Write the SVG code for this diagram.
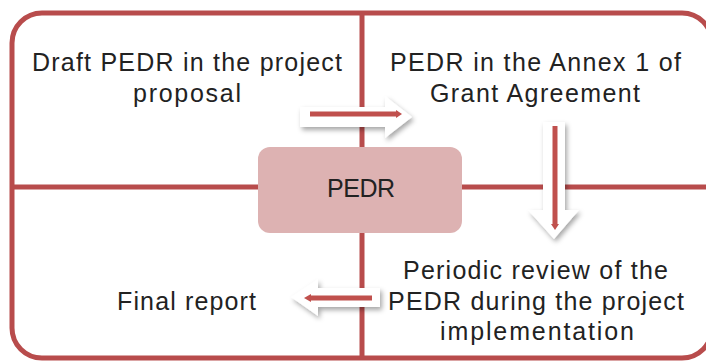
<svg xmlns="http://www.w3.org/2000/svg" width="706" height="363" viewBox="0 0 706 363">
<defs>
<style>
.ln{stroke:#b84c4c;stroke-width:5;fill:none}
.t{font-family:"Liberation Sans",Arial,sans-serif;font-size:25px;fill:#222;text-anchor:middle}
.ar{fill:#fff}
.rl{stroke:#c0504d;stroke-width:5;fill:none}
</style>
<filter id="sh" x="-30%" y="-30%" width="160%" height="160%">
<feDropShadow dx="2" dy="3" stdDeviation="2.5" flood-color="#000" flood-opacity="0.35"/>
</filter>
</defs>
<rect width="706" height="363" fill="#fff"/>
<g id="frame">
<rect class="ln" x="12" y="13" width="700" height="345" rx="30"/>
<line class="ln" x1="362" y1="13" x2="362" y2="358"/>
<line class="ln" x1="12" y1="187" x2="712" y2="187"/>
</g>
<g id="connectors">
<g filter="url(#sh)">
<polygon class="ar" points="300,107 385,107 385,96 412,117 385,138 385,127 300,127"/>
</g>
<line class="rl" x1="310" y1="114" x2="398" y2="114"/>
<polygon points="396,110 402,114 396,118" fill="#c0504d"/>
<g filter="url(#sh)">
<polygon class="ar" points="543,122 565,122 565,210 579,210 554,239 528,210 543,210"/>
</g>
<line class="rl" x1="555" y1="126" x2="555" y2="225"/>
<polygon points="551,224 555,230 559,224" fill="#c0504d"/>
<g filter="url(#sh)">
<polygon class="ar" points="380,288 380,307 318,307 318,316 291,297 318,279 318,288"/>
</g>
<line class="rl" x1="372" y1="298" x2="310" y2="298"/>
<polygon points="311,294 304,298 311,302" fill="#c0504d"/>
</g>
<g id="pedr">
<rect x="258" y="147" width="204" height="86" rx="12" fill="#ddb2b2"/>
<text class="t" x="361" y="197" textLength="68" lengthAdjust="spacing">PEDR</text>
</g>
<g id="draft">
<text class="t" x="187" y="71" textLength="310" lengthAdjust="spacing">Draft PEDR in the project</text>
<text class="t" x="187" y="102" textLength="108" lengthAdjust="spacing">proposal</text>
</g>
<g id="annex">
<text class="t" x="535.5" y="71" textLength="291" lengthAdjust="spacing">PEDR in the Annex 1 of</text>
<text class="t" x="535" y="102" textLength="210" lengthAdjust="spacing">Grant Agreement</text>
</g>
<g id="review">
<text class="t" x="535.5" y="279" textLength="265" lengthAdjust="spacing">Periodic review of the</text>
<text class="t" x="536" y="310" textLength="296" lengthAdjust="spacing">PEDR during the project</text>
<text class="t" x="537" y="340" textLength="194" lengthAdjust="spacing">implementation</text>
</g>
<g id="final">
<text class="t" x="186.5" y="310" textLength="139" lengthAdjust="spacing">Final report</text>
</g>
</svg>
